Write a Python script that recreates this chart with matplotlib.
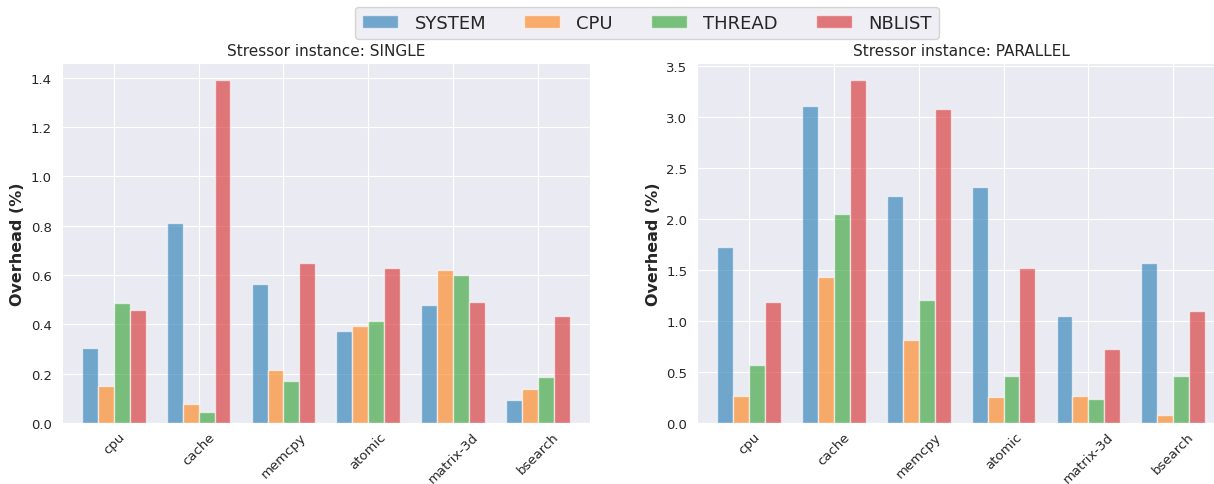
import numpy as np
import matplotlib
matplotlib.use("Agg")
import matplotlib.pyplot as plt
import seaborn as sns

stressors = ["cpu", "cache", "memcpy", "atomic", "matrix-3d", "bsearch"]
series = ["SYSTEM", "CPU", "THREAD", "NBLIST"]

# overhead (%) per stressor, single instance
single_system = [0.305, 0.81, 0.565, 0.372, 0.48, 0.095]
single_cpu = [0.15, 0.078, 0.213, 0.393, 0.62, 0.138]
single_thread = [0.485, 0.045, 0.17, 0.415, 0.598, 0.187]
single_nblist = [0.458, 1.39, 0.647, 0.627, 0.49, 0.435]

# overhead (%) per stressor, parallel instances
parallel_system = [1.72, 3.11, 2.22, 2.31, 1.05, 1.57]
parallel_cpu = [0.26, 1.43, 0.81, 0.25, 0.26, 0.08]
parallel_thread = [0.565, 2.05, 1.21, 0.465, 0.24, 0.465]
parallel_nblist = [1.19, 3.36, 3.075, 1.515, 0.725, 1.10]

colors = ["tab:blue", "tab:orange", "tab:green", "tab:red"]

sns.set_style("darkgrid")
plt.rcParams["font.family"] = ["DejaVu Sans"]

W, H = 1214, 485
fig = plt.figure(figsize=(W / 100, H / 100), dpi=100)
ax1 = fig.add_axes([61.7 / W, 61 / H, 528.3 / W, 360 / H])
ax2 = fig.add_axes([697 / W, 61 / H, 528.3 / W, 360 / H])


def draw(ax, data, title):
    x = np.arange(len(stressors))
    w = 0.1875
    for i, (vals, name, c) in enumerate(zip(data, series, colors)):
        ax.bar(x + (i - 1.5) * w, vals, width=w, color=c, alpha=0.6,
               edgecolor="white", linewidth=1, label=name)
    ax.set_xticks(x)
    ax.set_xticklabels(stressors, rotation=45, ha="center", fontsize=9.5)
    ax.tick_params(axis="x", pad=1.5)
    ax.tick_params(axis="y", labelsize=9.5)
    ax.set_xlim(-0.615, 5.615)
    ax.set_ylabel("Overhead (%)", fontsize=11.5, fontweight="bold")
    ax.set_title(title, fontsize=11)


draw(ax1, [single_system, single_cpu, single_thread, single_nblist],
     "Stressor instance: SINGLE")
draw(ax2, [parallel_system, parallel_cpu, parallel_thread, parallel_nblist],
     "Stressor instance: PARALLEL")
ax1.set_yticks(np.arange(0, 1.41, 0.2))
ax2.set_yticks(np.arange(0, 3.51, 0.5))

handles, labels = ax1.get_legend_handles_labels()
fig.legend(handles, labels, loc="upper center", bbox_to_anchor=(647 / W, 1.003),
           ncol=4, fontsize=13, handlelength=2.0, handletextpad=0.9,
           columnspacing=2.1, frameon=True)

fig.savefig("out.png", dpi=100)
